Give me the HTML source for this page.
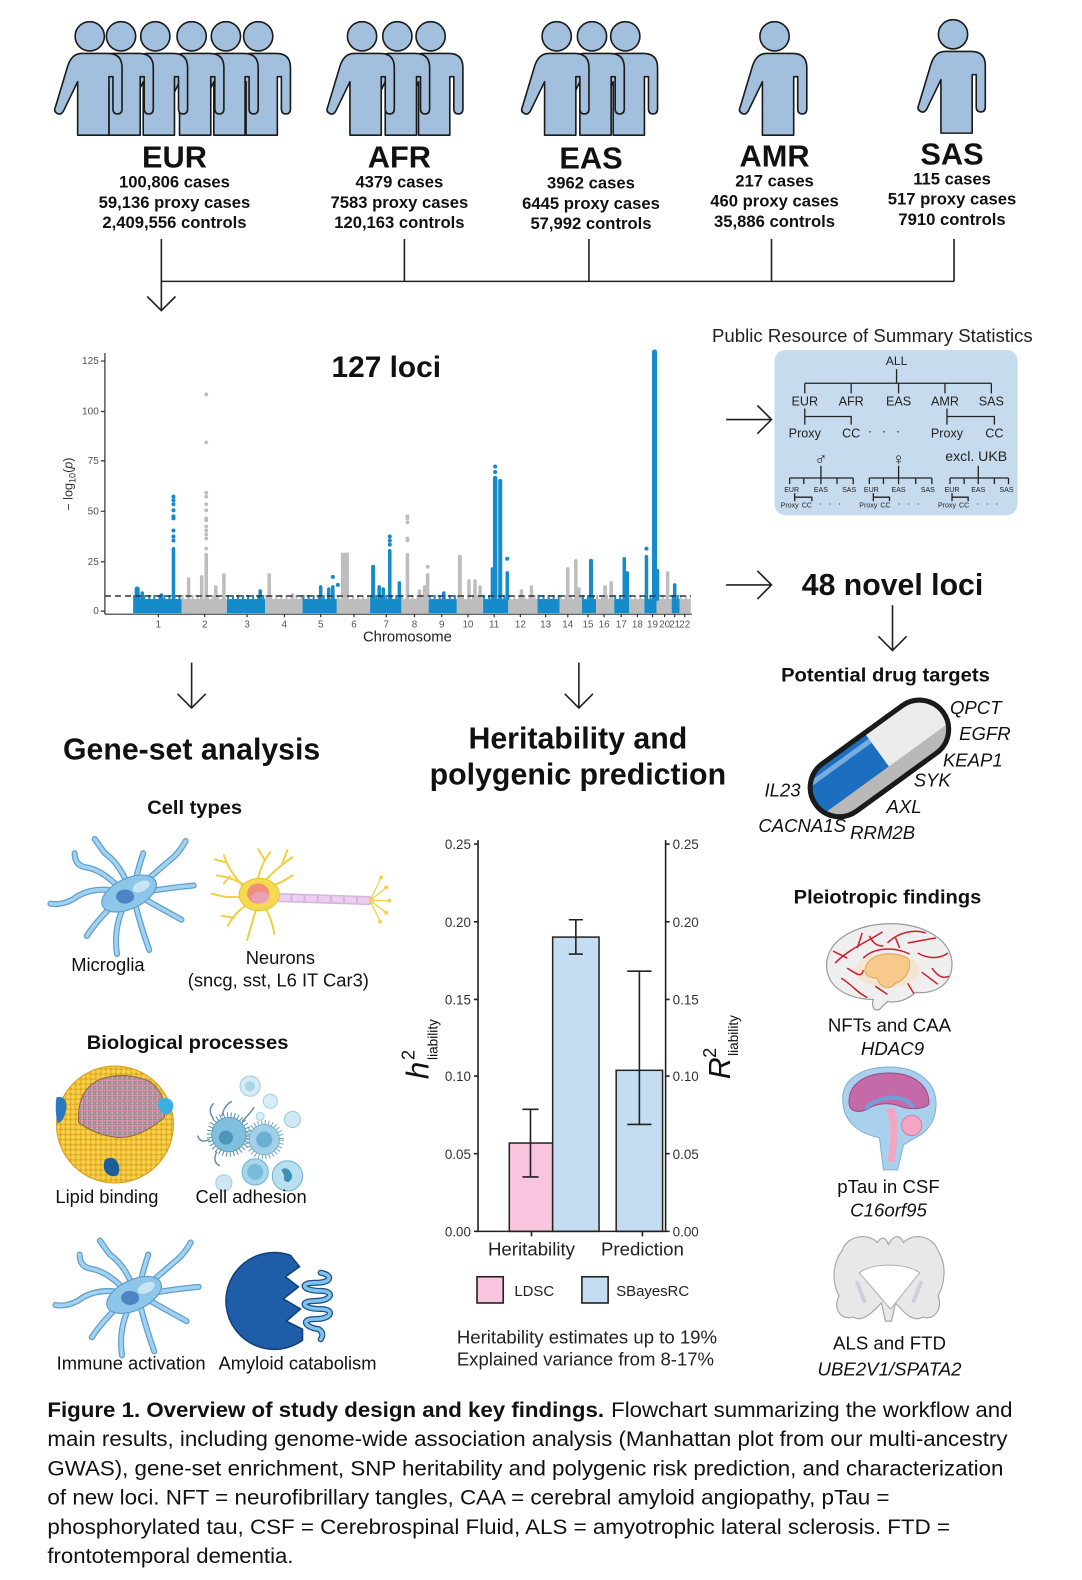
<!DOCTYPE html>
<html><head><meta charset="utf-8">
<style>
html,body{margin:0;padding:0;background:#fff;}
svg{display:block;}
text{font-family:"Liberation Sans",Arial,sans-serif;}
</style></head>
<body>
<svg width="1082" height="1580" viewBox="0 0 1082 1580" xmlns="http://www.w3.org/2000/svg" xmlns:xlink="http://www.w3.org/1999/xlink">
<rect width="1082" height="1580" fill="#fff"/>
<defs>
<g id="pp">
<path d="M-8,17 L18,17 Q32,17 32,31 L32,72 Q32,77 27.5,77 Q23,77 23,72 L23,40 L19,40 L19,98 L-12,98 L-12,45 L-26,74 Q-29,79 -33,76 Q-36,74 -34,70 L-22,30 Q-18,17 -8,17 Z"/>
<circle cx="0" cy="0" r="14.5"/>
</g>
<pattern id="ydots" width="5" height="5" patternUnits="userSpaceOnUse">
<rect width="5" height="5" fill="#e3a822"/>
<circle cx="2.5" cy="2.5" r="2.2" fill="#f6d04a"/>
</pattern>
<pattern id="pdots" width="5" height="5" patternUnits="userSpaceOnUse">
<rect width="5" height="5" fill="#9a7d88"/>
<circle cx="1.3" cy="1.3" r="1.2" fill="#ee93b8"/>
<circle cx="3.8" cy="3.8" r="1.2" fill="#74b08e"/>
<circle cx="3.8" cy="1.3" r="1.1" fill="#e890b4"/>
<circle cx="1.3" cy="3.8" r="1.1" fill="#f0a0c0"/>
</pattern>
<g id="mg">
<g fill="none" stroke-linecap="round">
<g stroke="#5d9fcf" stroke-width="6">
<path d="M118,884 Q90,878 72,892 Q60,898 50,896"/>
<path d="M118,880 Q100,862 85,860 Q74,858 74,846"/>
<path d="M126,876 Q118,856 104,846 Q98,838 94,832"/>
<path d="M134,874 Q138,858 142,846"/>
<path d="M142,876 Q160,860 172,850 Q180,842 184,834"/>
<path d="M146,884 Q170,880 192,878"/>
<path d="M144,892 Q162,902 180,912"/>
<path d="M134,896 Q140,920 148,942"/>
<path d="M124,896 Q112,920 116,946"/>
<path d="M118,892 Q98,910 86,928"/>
</g>
<g stroke="#a3d2f0" stroke-width="3.5">
<path d="M118,884 Q90,878 72,892 Q60,898 50,896"/>
<path d="M118,880 Q100,862 85,860 Q74,858 74,846"/>
<path d="M126,876 Q118,856 104,846 Q98,838 94,832"/>
<path d="M134,874 Q138,858 142,846"/>
<path d="M142,876 Q160,860 172,850 Q180,842 184,834"/>
<path d="M146,884 Q170,880 192,878"/>
<path d="M144,892 Q162,902 180,912"/>
<path d="M134,896 Q140,920 148,942"/>
<path d="M124,896 Q112,920 116,946"/>
<path d="M118,892 Q98,910 86,928"/>
</g>
</g>
<ellipse cx="128" cy="886" rx="29" ry="15" transform="rotate(-25 128 886)" fill="#8ec6ea" stroke="#5d9fcf" stroke-width="1.2"/>
<ellipse cx="140" cy="879" rx="9" ry="5" transform="rotate(-25 140 879)" fill="#c7e5f7"/>
<ellipse cx="124" cy="889" rx="9" ry="7" fill="#4d85c4"/>
</g>
<clipPath id="capclip"><rect x="-78" y="-29" width="156" height="58" rx="29"/></clipPath>
</defs>

<g transform="scale(1.0085)">
<!-- ===== People ===== -->
<g fill="#a2c0de" stroke="#1a1a1a" stroke-width="1.6" stroke-linejoin="round">
<use xlink:href="#pp" x="256" y="36"/>
<use xlink:href="#pp" x="224" y="36"/>
<use xlink:href="#pp" x="190" y="36"/>
<use xlink:href="#pp" x="154" y="36"/>
<use xlink:href="#pp" x="120" y="36"/>
<use xlink:href="#pp" x="89" y="36"/>
<use xlink:href="#pp" x="427" y="36"/>
<use xlink:href="#pp" x="394" y="36"/>
<use xlink:href="#pp" x="359" y="36"/>
<use xlink:href="#pp" x="620" y="36"/>
<use xlink:href="#pp" x="587" y="36"/>
<use xlink:href="#pp" x="552" y="36"/>
<use xlink:href="#pp" x="768" y="36"/>
<use xlink:href="#pp" x="945" y="34"/>
</g>

<g text-anchor="middle" fill="#111" font-weight="bold">
<text x="173" y="166" font-size="30.5">EUR</text>
<text x="173" y="186" font-size="16.5">100,806 cases</text>
<text x="173" y="206" font-size="16.5">59,136 proxy cases</text>
<text x="173" y="226" font-size="16.5">2,409,556 controls</text>
<text x="396" y="166" font-size="30.5">AFR</text>
<text x="396" y="186" font-size="16.5">4379 cases</text>
<text x="396" y="206" font-size="16.5">7583 proxy cases</text>
<text x="396" y="226" font-size="16.5">120,163 controls</text>
<text x="586" y="167" font-size="30.5">EAS</text>
<text x="586" y="187" font-size="16.5">3962 cases</text>
<text x="586" y="207" font-size="16.5">6445 proxy cases</text>
<text x="586" y="227" font-size="16.5">57,992 controls</text>
<text x="768" y="165" font-size="30.5">AMR</text>
<text x="768" y="185" font-size="16.5">217 cases</text>
<text x="768" y="205" font-size="16.5">460 proxy cases</text>
<text x="768" y="225" font-size="16.5">35,886 controls</text>
<text x="944" y="163" font-size="30.5">SAS</text>
<text x="944" y="183" font-size="16.5">115 cases</text>
<text x="944" y="203" font-size="16.5">517 proxy cases</text>
<text x="944" y="223" font-size="16.5">7910 controls</text>
</g>

<!-- connectors -->
<g stroke="#222" stroke-width="1.6" fill="none">
<path d="M160,237 V308 M146,294 L160,308 L174,294"/>
<path d="M160,279 H946"/>
<path d="M401,237 V279 M584,237 V279 M765,237 V279 M946,237 V279"/>
<path d="M720,416 H765 M751,402 L765,416 L751,430"/>
<path d="M720,580 H765 M751,566 L765,580 L751,594"/>
<path d="M885,600 V645 M871,631 L885,645 L899,631"/>
<path d="M190,657 V702 M176,688 L190,702 L204,688"/>
<path d="M574,657 V702 M560,688 L574,702 L588,688"/>
</g>

<!-- ===== Manhattan ===== -->
<g>
<rect x="132" y="594" width="48" height="14" fill="#168bc9"/>
<rect x="180" y="594" width="45" height="14" fill="#bdbdbd"/>
<rect x="225" y="594" width="38" height="14" fill="#168bc9"/>
<rect x="263" y="594" width="37" height="14" fill="#bdbdbd"/>
<rect x="300" y="594" width="34" height="14" fill="#168bc9"/>
<rect x="334" y="594" width="33" height="14" fill="#bdbdbd"/>
<rect x="367" y="594" width="31" height="14" fill="#168bc9"/>
<rect x="398" y="594" width="27" height="14" fill="#bdbdbd"/>
<rect x="425" y="594" width="28" height="14" fill="#168bc9"/>
<rect x="453" y="594" width="26" height="14" fill="#bdbdbd"/>
<rect x="479" y="594" width="25" height="14" fill="#168bc9"/>
<rect x="504" y="594" width="29" height="14" fill="#bdbdbd"/>
<rect x="533" y="594" width="22" height="14" fill="#168bc9"/>
<rect x="555" y="594" width="22" height="14" fill="#bdbdbd"/>
<rect x="577" y="594" width="14" height="14" fill="#168bc9"/>
<rect x="591" y="594" width="18" height="14" fill="#bdbdbd"/>
<rect x="609" y="594" width="15" height="14" fill="#168bc9"/>
<rect x="624" y="594" width="15" height="14" fill="#bdbdbd"/>
<rect x="639" y="594" width="12" height="14" fill="#168bc9"/>
<rect x="651" y="594" width="15" height="14" fill="#bdbdbd"/>
<rect x="666" y="594" width="8" height="14" fill="#168bc9"/>
<rect x="674" y="594" width="11" height="14" fill="#bdbdbd"/>
</g>
<g stroke-width="4" stroke-dasharray="2 3">
<line x1="132" y1="592" x2="180" y2="592" stroke="#168bc9"/>
<line x1="180" y1="592" x2="225" y2="592" stroke="#bdbdbd"/>
<line x1="225" y1="592" x2="263" y2="592" stroke="#168bc9"/>
<line x1="263" y1="592" x2="300" y2="592" stroke="#bdbdbd"/>
<line x1="300" y1="592" x2="334" y2="592" stroke="#168bc9"/>
<line x1="334" y1="592" x2="367" y2="592" stroke="#bdbdbd"/>
<line x1="367" y1="592" x2="398" y2="592" stroke="#168bc9"/>
<line x1="398" y1="592" x2="425" y2="592" stroke="#bdbdbd"/>
<line x1="425" y1="592" x2="453" y2="592" stroke="#168bc9"/>
<line x1="453" y1="592" x2="479" y2="592" stroke="#bdbdbd"/>
<line x1="479" y1="592" x2="504" y2="592" stroke="#168bc9"/>
<line x1="504" y1="592" x2="533" y2="592" stroke="#bdbdbd"/>
<line x1="533" y1="592" x2="555" y2="592" stroke="#168bc9"/>
<line x1="555" y1="592" x2="577" y2="592" stroke="#bdbdbd"/>
<line x1="577" y1="592" x2="591" y2="592" stroke="#168bc9"/>
<line x1="591" y1="592" x2="609" y2="592" stroke="#bdbdbd"/>
<line x1="609" y1="592" x2="624" y2="592" stroke="#168bc9"/>
<line x1="624" y1="592" x2="639" y2="592" stroke="#bdbdbd"/>
<line x1="639" y1="592" x2="651" y2="592" stroke="#168bc9"/>
<line x1="651" y1="592" x2="666" y2="592" stroke="#bdbdbd"/>
<line x1="666" y1="592" x2="674" y2="592" stroke="#168bc9"/>
<line x1="674" y1="592" x2="685" y2="592" stroke="#bdbdbd"/>
</g>
<g stroke="#bdbdbd" stroke-width="3.5" stroke-linecap="round" fill="#bdbdbd">
<line x1="187" y1="594" x2="187" y2="574"/>
<line x1="200" y1="594" x2="200" y2="572"/>
<line x1="204.5" y1="594" x2="204.5" y2="550"/>
<line x1="214" y1="594" x2="214" y2="582"/>
<line x1="222" y1="594" x2="222" y2="570"/>
<line x1="267" y1="594" x2="267" y2="570"/>
<line x1="290" y1="594" x2="290" y2="590"/>
<line x1="404" y1="594" x2="404" y2="550"/>
<line x1="416" y1="594" x2="416" y2="586"/>
<line x1="421" y1="594" x2="421" y2="582"/>
<line x1="424" y1="594" x2="424" y2="570"/>
<line x1="456" y1="594" x2="456" y2="552" stroke-width="4"/>
<line x1="465" y1="594" x2="465" y2="576"/>
<line x1="471" y1="594" x2="471" y2="576"/>
<line x1="476" y1="594" x2="476" y2="582"/>
<line x1="517" y1="594" x2="517" y2="586"/>
<line x1="527" y1="594" x2="527" y2="582"/>
<line x1="563" y1="594" x2="563" y2="564"/>
<line x1="571" y1="594" x2="571" y2="556"/>
<line x1="574" y1="594" x2="574" y2="584"/>
<line x1="600" y1="594" x2="600" y2="582"/>
<line x1="606" y1="594" x2="606" y2="578"/>
<line x1="662" y1="594" x2="662" y2="568"/>
<rect x="338" y="548" width="8" height="46" stroke="none"/>
<g stroke="none">
<circle cx="204.5" cy="544" r="1.9"/><circle cx="204.5" cy="534" r="1.9"/><circle cx="204.5" cy="530" r="1.9"/>
<circle cx="204.5" cy="526" r="1.9"/><circle cx="204.5" cy="522" r="1.9"/><circle cx="204.5" cy="516" r="1.9"/>
<circle cx="204.5" cy="514" r="1.9"/><circle cx="204.5" cy="506" r="1.9"/><circle cx="204.5" cy="500" r="1.9"/>
<circle cx="204.5" cy="492.5" r="1.9"/><circle cx="204.5" cy="488.5" r="1.9"/><circle cx="204.5" cy="438.7" r="1.9"/>
<circle cx="204.5" cy="391" r="1.9"/>
<circle cx="404" cy="536" r="1.9"/><circle cx="404" cy="534" r="1.9"/><circle cx="404" cy="518" r="1.9"/>
<circle cx="404" cy="514" r="1.9"/><circle cx="404" cy="512" r="1.9"/>
<circle cx="424" cy="562" r="1.9"/>
</g>
</g>
<g stroke="#168bc9" stroke-width="3.5" stroke-linecap="round" fill="#168bc9">
<line x1="136" y1="594" x2="136" y2="584" stroke-width="5"/>
<line x1="141" y1="594" x2="141" y2="588"/>
<line x1="160" y1="594" x2="160" y2="590"/>
<line x1="172" y1="594" x2="172" y2="544"/>
<line x1="258" y1="594" x2="258" y2="586"/>
<line x1="318" y1="594" x2="318" y2="582"/>
<line x1="326" y1="594" x2="326" y2="584"/>
<line x1="330" y1="594" x2="330" y2="582"/>
<line x1="370" y1="594" x2="370" y2="562" stroke-width="4"/>
<line x1="376" y1="594" x2="376" y2="582"/>
<line x1="380" y1="594" x2="380" y2="584"/>
<line x1="386.5" y1="594" x2="386.5" y2="546"/>
<line x1="396" y1="594" x2="396" y2="578"/>
<line x1="440" y1="594" x2="440" y2="588"/>
<line x1="488" y1="594" x2="488" y2="564" stroke-width="3"/>
<line x1="491" y1="594" x2="491" y2="474" stroke-width="4.5"/>
<line x1="496" y1="594" x2="496" y2="477" stroke-width="4"/>
<line x1="503" y1="594" x2="503" y2="568"/>
<line x1="586" y1="594" x2="586" y2="556" stroke-width="4"/>
<line x1="619" y1="594" x2="619" y2="554"/>
<line x1="622" y1="594" x2="622" y2="568"/>
<line x1="641" y1="594" x2="641" y2="552"/>
<line x1="649" y1="594" x2="649" y2="349" stroke-width="5"/>
<line x1="652" y1="594" x2="652" y2="566"/>
<line x1="669" y1="594" x2="669" y2="580"/>
<g stroke="none">
<circle cx="172" cy="536" r="2"/><circle cx="172" cy="532" r="2"/><circle cx="172" cy="526" r="2"/>
<circle cx="172" cy="514" r="2"/><circle cx="172" cy="512" r="2"/><circle cx="172" cy="506" r="2"/>
<circle cx="172" cy="500" r="2"/><circle cx="172" cy="496" r="2"/><circle cx="172" cy="492.5" r="2"/>
<circle cx="330" cy="572" r="2"/><circle cx="335" cy="580" r="2"/>
<circle cx="386.5" cy="540" r="2"/><circle cx="386.5" cy="536" r="2"/><circle cx="386.5" cy="532" r="2"/>
<circle cx="491" cy="468" r="2"/><circle cx="491" cy="462.6" r="2"/>
<circle cx="503" cy="554" r="2"/>
<circle cx="641" cy="544" r="2"/>
</g>
</g>
<line x1="104" y1="591" x2="685" y2="591" stroke="#333" stroke-width="1.5" stroke-dasharray="6 4"/>
<g stroke="#333" stroke-width="1.2">
<line x1="104" y1="350" x2="104" y2="609"/>
<line x1="104" y1="609" x2="686" y2="609"/>
<path d="M100,358 H104 M100,408 H104 M100,457 H104 M100,507 H104 M100,557 H104 M100,606 H104"/>
<path d="M157,609 v3 M203,609 v3 M245,609 v3 M282,609 v3 M318,609 v3 M351,609 v3 M383,609 v3 M411,609 v3 M438,609 v3 M464,609 v3 M490,609 v3 M516,609 v3 M541,609 v3 M563,609 v3 M583,609 v3 M599,609 v3 M616,609 v3 M632,609 v3 M647,609 v3 M659,609 v3 M669,609 v3 M679,609 v3"/>
</g>
<g font-size="10" fill="#555" text-anchor="end">
<text x="98" y="361">125</text>
<text x="98" y="411">100</text>
<text x="98" y="460">75</text>
<text x="98" y="510">50</text>
<text x="98" y="560">25</text>
<text x="98" y="609">0</text>
</g>
<g font-size="9.8" fill="#555" text-anchor="middle">
<text x="157" y="622">1</text><text x="203" y="622">2</text><text x="245" y="622">3</text><text x="282" y="622">4</text>
<text x="318" y="622">5</text><text x="351" y="622">6</text><text x="383" y="622">7</text><text x="411" y="622">8</text>
<text x="438" y="622">9</text><text x="464" y="622">10</text><text x="490" y="622">11</text><text x="516" y="622">12</text>
<text x="541" y="622">13</text><text x="563" y="622">14</text><text x="583" y="622">15</text><text x="599" y="622">16</text>
<text x="616" y="622">17</text><text x="632" y="622">18</text><text x="647" y="622">19</text><text x="659" y="622">20</text>
<text x="669" y="622">21</text><text x="679" y="622">22</text>
</g>
<text x="404" y="636" font-size="14.7" fill="#222" text-anchor="middle">Chromosome</text>
<text transform="translate(72,480) rotate(-90)" font-size="12.5" fill="#333" text-anchor="middle">− log<tspan font-size="9" dy="3">10</tspan><tspan dy="-3">(</tspan><tspan font-style="italic">p</tspan>)</text>
<text x="383" y="374" font-size="29.6" font-weight="bold" fill="#111" text-anchor="middle">127 loci</text>

<!-- ===== Summary statistics box ===== -->
<text x="865" y="339" font-size="18.5" fill="#222" text-anchor="middle" textLength="318" lengthAdjust="spacingAndGlyphs">Public Resource of Summary Statistics</text>
<rect x="768" y="347" width="241" height="164" rx="11" fill="#c7dbee"/>
<g stroke="#222" stroke-width="1.3" fill="none">
<path d="M889,366 V380 M798,380 H983 M798,380 V390 M844,380 V390 M891,380 V390 M937,380 V390 M983,380 V390"/>
<path d="M798,405 V421 M798,413 H844 V421"/>
<path d="M939,405 V421 M939,413 H986 V421"/>
<path d="M814,462 V474 M783,474 H846 M783,474 V480 M797,474 V480 M814,474 V480 M830,474 V480 M846,474 V480"/>
<path d="M891,462 V474 M862,474 H924 M862,474 V480 M876,474 V480 M891,474 V480 M908,474 V480 M924,474 V480"/>
<path d="M970,462 V474 M942,474 H1000 M942,474 V480 M956,474 V480 M970,474 V480 M986,474 V480 M1000,474 V480"/>
<path d="M788,489 V497 M788,493 H805 V497"/>
<path d="M866,489 V497 M866,493 H882 V497"/>
<path d="M944,489 V497 M944,493 H960 V497"/>
</g>
<g fill="#222" text-anchor="middle">
<text x="889" y="362" font-size="12">ALL</text>
<g font-size="12.5">
<text x="798" y="402">EUR</text><text x="844" y="402">AFR</text><text x="891" y="402">EAS</text><text x="937" y="402">AMR</text><text x="983" y="402">SAS</text>
<text x="798" y="434">Proxy</text><text x="844" y="434">CC</text>
<text x="939" y="434">Proxy</text><text x="986" y="434">CC</text>
</g>
<text x="878" y="432" font-size="13" letter-spacing="3">· · ·</text>
<text x="814" y="461" font-size="17">♂</text>
<text x="891" y="461" font-size="17">♀</text>
<text x="968" y="457" font-size="14">excl. UKB</text>
<g font-size="7">
<text x="785" y="488">EUR</text><text x="814" y="488">EAS</text><text x="842" y="488">SAS</text>
<text x="864" y="488">EUR</text><text x="891" y="488">EAS</text><text x="920" y="488">SAS</text>
<text x="944" y="488">EUR</text><text x="970" y="488">EAS</text><text x="998" y="488">SAS</text>
<text x="783" y="503">Proxy</text><text x="800" y="503">CC</text>
<text x="861" y="503">Proxy</text><text x="878" y="503">CC</text>
<text x="939" y="503">Proxy</text><text x="956" y="503">CC</text>
</g>
<g font-size="9" letter-spacing="2">
<text x="824" y="502">· · ·</text><text x="902" y="502">· · ·</text><text x="980" y="502">· · ·</text>
</g>
</g>

<text x="885" y="590" font-size="30" font-weight="bold" fill="#111" text-anchor="middle" textLength="180" lengthAdjust="spacingAndGlyphs">48 novel loci</text>

<!-- ===== Drug targets ===== -->
<text x="878" y="676" font-size="19" font-weight="bold" fill="#111" text-anchor="middle" textLength="207" lengthAdjust="spacingAndGlyphs">Potential drug targets</text>
<g transform="translate(872,752) rotate(-36)">
<g clip-path="url(#capclip)">
<rect x="-78" y="-29" width="81" height="58" fill="#1c6fbf"/>
<rect x="3" y="-29" width="75" height="58" fill="#ececec"/>
<rect x="-78" y="12" width="156" height="17" fill="#b9b9b9"/>
<rect x="-70" y="-22" width="73" height="5" fill="#78acdf"/>
</g>
<rect x="-78" y="-29" width="156" height="58" rx="29" fill="none" stroke="#1a1a1a" stroke-width="5"/>
</g>
<g font-size="18.4" font-style="italic" fill="#111">
<text x="942" y="708">QPCT</text>
<text x="951" y="734">EGFR</text>
<text x="935" y="760">KEAP1</text>
<text x="906" y="780">SYK</text>
<text x="758" y="790">IL23</text>
<text x="879" y="806">AXL</text>
<text x="752" y="825">CACNA1S</text>
<text x="843" y="832">RRM2B</text>
</g>

<!-- ===== Pleiotropic ===== -->
<text x="880" y="896" font-size="19" font-weight="bold" fill="#111" text-anchor="middle" textLength="186" lengthAdjust="spacingAndGlyphs">Pleiotropic findings</text>
<path d="M820,962 C816,935 845,917 880,916 C916,915 944,932 944,956 C944,975 929,986 908,984 C900,991 890,995 880,993 L872,1001 C866,1003 864,997 866,991 C845,991 823,982 820,962 Z" fill="#efefef" stroke="#9a9a9a" stroke-width="1.2"/>
<ellipse cx="880" cy="962" rx="32" ry="17" fill="#f5e4cf"/>
<path d="M858,960 C862,945 885,942 900,950 C906,958 898,972 888,975 C880,984 872,978 870,970 C862,970 856,966 858,960 Z" fill="#f7c98b" stroke="#e0a45c"/>
<g stroke="#cc1f2c" stroke-width="1.5" fill="none">
<path d="M828,955 C843,940 860,934 875,924"/><path d="M850,940 L855,925"/><path d="M880,935 C890,925 905,921 918,925"/>
<path d="M900,935 L928,930"/><path d="M910,945 C920,951 932,951 940,945"/><path d="M924,960 C930,968 935,971 941,968"/>
<path d="M834,970 C845,976 850,985 860,989"/><path d="M900,975 L906,985"/><path d="M840,960 C850,966 854,970 856,962"/>
<path d="M856,950 C866,940 885,938 902,946"/><path d="M888,930 L892,940"/><path d="M914,964 L930,976"/>
<path d="M826,943 L840,950"/><path d="M862,928 C866,936 870,938 876,938"/><path d="M868,978 L880,986"/>
</g>
<g font-size="18.5" fill="#111" text-anchor="middle">
<text x="882" y="1023">NFTs and CAA</text>
<text x="885" y="1046" font-style="italic">HDAC9</text>
</g>
<path d="M836,1095 C832,1070 855,1058 882,1058 C912,1058 930,1075 928,1098 C927,1112 920,1122 908,1128 L896,1135 L890,1160 L876,1160 L872,1128 C855,1125 838,1115 836,1095 Z" fill="#a9d1ee" stroke="#7fb0d8"/>
<path d="M842,1095 C840,1075 858,1064 882,1064 C908,1064 922,1078 921,1095 C916,1100 905,1100 895,1098 C885,1093 870,1093 860,1100 C850,1104 843,1102 842,1095 Z" fill="#c46aa8" stroke="#9b4a86"/>
<path d="M858,1100 C870,1086 896,1084 906,1098" stroke="#6d9fd9" stroke-width="4" fill="none"/>
<path d="M878,1100 C884,1110 884,1125 880,1152 L887,1152 C891,1125 891,1110 887,1098 Z" fill="#f1a7c4"/>
<circle cx="904" cy="1116" r="10" fill="#f3a6c3" stroke="#d77aa2"/>
<g font-size="18.5" fill="#111" text-anchor="middle">
<text x="881" y="1183">pTau in CSF</text>
<text x="881" y="1206" font-style="italic">C16orf95</text>
</g>
<path d="M835,1240 C840,1225 860,1222 870,1232 C874,1226 878,1226 881,1234 C886,1224 892,1224 896,1232 C905,1222 925,1225 930,1240 C940,1255 936,1275 930,1285 C935,1295 928,1310 915,1306 C905,1312 895,1300 888,1292 L884,1310 L878,1310 L874,1292 C866,1300 856,1312 846,1306 C832,1310 826,1295 832,1285 C824,1270 826,1252 835,1240 Z" fill="#e8e8e8" stroke="#a8a8a8" stroke-width="1.2"/>
<path d="M852,1262 C865,1252 898,1252 912,1262 L883,1298 Z" fill="#fff" stroke="#b0b0b0"/>
<g stroke="#cfcfdc" stroke-width="4" stroke-linecap="round"><line x1="850" y1="1272" x2="857" y2="1290"/><line x1="913" y1="1272" x2="906" y2="1290"/></g>
<g font-size="18.5" fill="#111" text-anchor="middle">
<text x="882" y="1338">ALS and FTD</text>
<text x="882" y="1364" font-style="italic">UBE2V1/SPATA2</text>
</g>

<!-- ===== Gene-set analysis ===== -->
<text x="190" y="753" font-size="30.5" font-weight="bold" fill="#111" text-anchor="middle" textLength="255" lengthAdjust="spacingAndGlyphs">Gene-set analysis</text>
<text x="193" y="807" font-size="19" font-weight="bold" fill="#111" text-anchor="middle" textLength="94" lengthAdjust="spacingAndGlyphs">Cell types</text>
<use xlink:href="#mg"/>
<g fill="none" stroke="#f0cf45" stroke-width="2" stroke-linecap="round">
<path d="M250,882 Q232,870 215,868"/><path d="M240,878 Q225,860 222,848"/><path d="M255,875 Q258,858 268,845"/>
<path d="M262,874 Q275,860 290,850"/><path d="M266,880 Q280,875 290,868"/><path d="M248,895 Q232,905 226,918"/>
<path d="M255,898 Q250,915 245,932"/><path d="M262,898 Q270,912 272,926"/><path d="M244,888 Q228,892 210,886"/>
<path d="M228,869 L222,876"/><path d="M223,855 L213,852"/><path d="M262,852 L256,842"/><path d="M280,856 L285,843"/><path d="M232,910 L220,908"/>
</g>
<line x1="277" y1="890" x2="366" y2="893" stroke="#d6b4de" stroke-width="9" stroke-linecap="round"/>
<line x1="277" y1="890" x2="366" y2="893" stroke="#ecd0f0" stroke-width="6" stroke-dasharray="11 2"/>
<ellipse cx="257" cy="887" rx="20" ry="16" fill="#f6d94e" stroke="#e8c23a"/>
<ellipse cx="256" cy="886" rx="11" ry="10" fill="#ee8f78"/>
<ellipse cx="258" cy="890" rx="9" ry="6" fill="#eaa5cc" opacity="0.7"/>
<g stroke="#f0d24a" stroke-width="1.3" fill="none">
<path d="M367,893 L378,870 M367,893 L383,880 M367,893 L386,893 M367,893 L383,905 M367,893 L377,914"/>
</g>
<g fill="#f0d24a"><circle cx="378" cy="870" r="2"/><circle cx="383" cy="880" r="2"/><circle cx="386" cy="893" r="2"/><circle cx="383" cy="905" r="2"/><circle cx="377" cy="914" r="2"/></g>
<g font-size="18.2" fill="#111" text-anchor="middle">
<text x="107" y="963">Microglia</text>
<text x="278" y="956">Neurons</text>
<text x="276" y="978">(sncg, sst, L6 IT Car3)</text>
</g>

<text x="186" y="1040" font-size="19" font-weight="bold" fill="#111" text-anchor="middle" textLength="200" lengthAdjust="spacingAndGlyphs">Biological processes</text>
<circle cx="114" cy="1115" r="58" fill="url(#ydots)" stroke="#d49a1a" stroke-width="1"/>
<path d="M78,1113 Q76,1080 100,1070 Q123,1062 148,1072 Q166,1085 163,1108 Q140,1128 118,1128 Q95,1126 78,1113 Z" fill="url(#pdots)" stroke="#8a6a3a" stroke-width="1"/>
<path d="M56,1088 Q66,1086 66,1098 Q64,1112 57,1114 Q54,1100 56,1088 Z" fill="#2a78c0"/>
<path d="M158,1090 Q170,1086 172,1096 Q170,1108 162,1104 Q154,1098 158,1090 Z" fill="#3bb0e0"/>
<path d="M104,1150 Q114,1144 118,1156 Q120,1168 110,1166 Q100,1162 104,1150 Z" fill="#1c5d9c"/>
<g>
<circle cx="227" cy="1125" r="19" fill="none" stroke="#5f8ea8" stroke-width="6" stroke-dasharray="1 2.5"/>
<circle cx="227" cy="1125" r="17" fill="#7fc0de" stroke="#5f9ab8"/>
<circle cx="224" cy="1128" r="7" fill="#4e93b8"/>
<g stroke="#6c8fa5" stroke-width="1.5" fill="none"><path d="M212,1110 Q205,1100 212,1094"/><path d="M220,1107 Q222,1096 230,1092"/><path d="M208,1130 Q198,1134 196,1126"/><path d="M215,1142 Q210,1152 218,1156"/><path d="M240,1112 Q248,1104 252,1098"/></g>
<circle cx="262" cy="1130" r="17" fill="none" stroke="#7aa4bd" stroke-width="5" stroke-dasharray="1 2.5"/>
<circle cx="262" cy="1130" r="15" fill="#a0d1e8" stroke="#79b2cf"/>
<circle cx="262" cy="1130" r="8" fill="#6bb0d2"/>
<circle cx="248" cy="1077" r="10" fill="#d4ebf6" stroke="#a0cbe1"/><circle cx="248" cy="1077" r="5" fill="#acd3e8"/>
<circle cx="268" cy="1092" r="7" fill="#d7edf7" stroke="#a8d0e4"/>
<circle cx="290" cy="1110" r="8" fill="#cfe8f4" stroke="#9cc9e0"/>
<circle cx="258" cy="1107" r="4" fill="#d7edf7" stroke="#a8d0e4"/>
<circle cx="253" cy="1162" r="13" fill="#a7d6ec" stroke="#6fb1d2"/><circle cx="253" cy="1162" r="8" fill="#78bcdc"/>
<circle cx="285" cy="1166" r="15" fill="#b9e0f1" stroke="#6fb1d2"/>
<path d="M279,1160 Q284,1156 288,1162 Q292,1168 286,1172 Q280,1172 282,1166 Z" fill="#3e8fb3"/>
<circle cx="222" cy="1173" r="8" fill="#cde8f4" stroke="#a0cbe1"/>
</g>
<g font-size="18.2" fill="#111" text-anchor="middle">
<text x="106" y="1193">Lipid binding</text>
<text x="249" y="1193">Cell adhesion</text>
</g>
<use xlink:href="#mg" transform="translate(5,398)"/>
<path d="M288,1244.7 A48,48 0 1,0 300,1329 L300,1318 L284,1310 L298,1298 L281,1288 L296,1276 L283,1266 L297,1256 Z" fill="#1e5ea8" stroke="#123f78" stroke-width="1.5"/>
<path d="M318,1262 C330,1264 330,1272 312,1272 C296,1272 300,1280 318,1280 C332,1280 330,1290 312,1290 C296,1290 300,1298 318,1298 C332,1298 330,1308 312,1308 C298,1308 302,1316 316,1318 Q322,1322 318,1328" fill="none" stroke="#1b4f86" stroke-width="6" stroke-linecap="round"/>
<path d="M318,1262 C330,1264 330,1272 312,1272 C296,1272 300,1280 318,1280 C332,1280 330,1290 312,1290 C296,1290 300,1298 318,1298 C332,1298 330,1308 312,1308 C298,1308 302,1316 316,1318 Q322,1322 318,1328" fill="none" stroke="#7fc2ec" stroke-width="3.5" stroke-linecap="round"/>
<g font-size="18.2" fill="#111" text-anchor="middle">
<text x="130" y="1358">Immune activation</text>
<text x="295" y="1358">Amyloid catabolism</text>
</g>

<!-- ===== Heritability ===== -->
<g font-size="30.5" font-weight="bold" fill="#111" text-anchor="middle">
<text x="573" y="742" textLength="217" lengthAdjust="spacingAndGlyphs">Heritability and</text>
<text x="573" y="778" textLength="294" lengthAdjust="spacingAndGlyphs">polygenic prediction</text>
</g>
<rect x="505" y="1133.4" width="43" height="87.6" fill="#f9c4de" stroke="#222" stroke-width="1.5"/>
<rect x="548" y="929.2" width="46" height="291.8" fill="#c4ddf3" stroke="#222" stroke-width="1.5"/>
<rect x="611" y="1061.3" width="46" height="159.7" fill="#c4ddf3" stroke="#222" stroke-width="1.5"/>
<g stroke="#222" stroke-width="1.6" fill="none">
<path d="M526,1167 V1100 M518,1167 H534 M518,1100 H534"/>
<path d="M571,946 V912 M564,946 H578 M564,912 H578"/>
<path d="M634,1115 V963 M622,1115 H646 M622,963 H646"/>
<path d="M474,833 V1221 H660 V833"/>
<path d="M470,837 H474 M470,914 H474 M470,991 H474 M470,1067 H474 M470,1144 H474 M470,1221 H474"/>
<path d="M660,837 H664 M660,914 H664 M660,991 H664 M660,1067 H664 M660,1144 H664 M660,1221 H664"/>
<path d="M527,1221 V1226 M637,1221 V1226"/>
</g>
<g font-size="13.3" fill="#333" text-anchor="end">
<text x="467" y="842">0.25</text><text x="467" y="919">0.20</text><text x="467" y="996">0.15</text>
<text x="467" y="1072">0.10</text><text x="467" y="1149">0.05</text><text x="467" y="1226">0.00</text>
</g>
<g font-size="13.3" fill="#333">
<text x="667" y="842">0.25</text><text x="667" y="919">0.20</text><text x="667" y="996">0.15</text>
<text x="667" y="1072">0.10</text><text x="667" y="1149">0.05</text><text x="667" y="1226">0.00</text>
</g>
<g font-size="18.5" fill="#222" text-anchor="middle">
<text x="527" y="1245">Heritability</text>
<text x="637" y="1245">Prediction</text>
</g>
<g transform="translate(425,1070) rotate(-90)" fill="#111">
<text x="0" y="0" font-size="31" font-style="italic">h</text>
<text x="19" y="-14" font-size="18">2</text>
<text x="19" y="9" font-size="13.5">liability</text>
</g>
<g transform="translate(724,1070) rotate(-90)" fill="#111">
<text x="0" y="0" font-size="30" font-style="italic">R</text>
<text x="21" y="-14" font-size="18">2</text>
<text x="23" y="8" font-size="13.5">liability</text>
</g>
<rect x="473" y="1266" width="26" height="26" fill="#f9c4de" stroke="#222" stroke-width="1.6"/>
<rect x="577" y="1266" width="26" height="26" fill="#c4ddf3" stroke="#222" stroke-width="1.6"/>
<g font-size="14.8" fill="#222">
<text x="510" y="1285">LDSC</text>
<text x="611" y="1285">SBayesRC</text>
</g>
<g font-size="18.3" fill="#222">
<text x="453" y="1332" textLength="258" lengthAdjust="spacingAndGlyphs">Heritability estimates up to 19%</text>
<text x="453" y="1354" textLength="255" lengthAdjust="spacingAndGlyphs">Explained variance from 8-17%</text>
</g>

<!-- ===== Caption ===== -->
<g font-size="21.5" fill="#111">
<text x="47" y="1405" font-weight="bold" textLength="552" lengthAdjust="spacingAndGlyphs">Figure 1. Overview of study design and key findings.</text>
<text x="606" y="1405" textLength="398" lengthAdjust="spacingAndGlyphs">Flowchart summarizing the workflow and</text>
<text x="47" y="1434" textLength="952" lengthAdjust="spacingAndGlyphs">main results, including genome-wide association analysis (Manhattan plot from our multi-ancestry</text>
<text x="47" y="1463" textLength="948" lengthAdjust="spacingAndGlyphs">GWAS), gene-set enrichment, SNP heritability and polygenic risk prediction, and characterization</text>
<text x="47" y="1492" textLength="835" lengthAdjust="spacingAndGlyphs">of new loci. NFT = neurofibrillary tangles, CAA = cerebral amyloid angiopathy, pTau =</text>
<text x="47" y="1521" textLength="895" lengthAdjust="spacingAndGlyphs">phosphorylated tau, CSF = Cerebrospinal Fluid, ALS = amyotrophic lateral sclerosis. FTD =</text>
<text x="47" y="1550" textLength="244" lengthAdjust="spacingAndGlyphs">frontotemporal dementia.</text>
</g>
</g>
</svg>
</body></html>
